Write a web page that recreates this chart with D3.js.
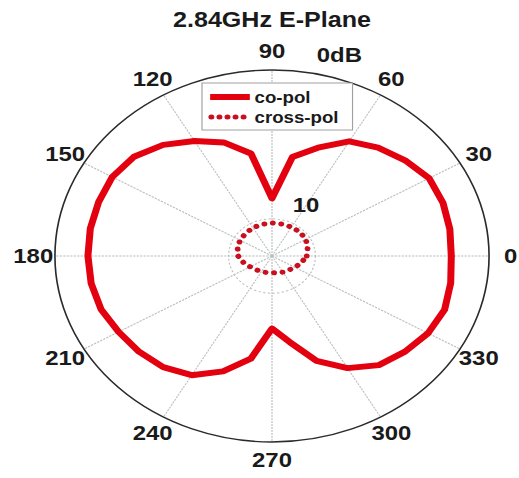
<!DOCTYPE html>
<html>
<head>
<meta charset="utf-8">
<script src="https://cdn.jsdelivr.net/npm/d3@7/dist/d3.min.js"></script>
<style>
  html, body { margin: 0; padding: 0; background: #fff; }
  text { font-family: "Liberation Sans", Arial, sans-serif; font-weight: bold; fill: #1a1a1a; }
</style>
</head>
<body>
<svg id="chart" width="519" height="478"></svg>
<script>
// ---- data ----
const title = "2.84GHz E-Plane";
const coPolAngles = [0,10,20,30,40,50,60,70,80,90,100,110,120,130,140,150,160,170,180,190,200,210,220,230,240,250,260,270,280,290,300,310,320,330,340,350];
const coPolValues = [41.3,41.6,41.9,41.8,40.0,38.0,35.6,31.0,27.0,15.5,28.0,32.5,35.7,39.0,41.5,42.5,42.5,42.5,42.4,42.3,41.9,40.8,40.0,39.0,37.0,33.0,28.0,19.5,23.5,30.0,34.8,38.3,40.0,41.5,42.3,41.8];
const crossPolAngles = [0,15,30,45,60,75,90,105,120,135,150,165,180,195,210,225,240,255,270,285,300,315,330,345];
const crossPolValues = [8.0,8.5,9.0,9.1,9.0,8.9,8.9,8.8,8.8,8.6,8.5,8.2,7.8,6.8,5.8,5.2,4.9,4.6,4.5,4.7,5.0,5.4,6.1,7.0];
const angleTicks = [0,30,60,90,120,150,180,210,240,270,300,330];
const ringValues = [10];
const ringLabels = ["10"];
const outerValue = 50;
const outerLabel = "0dB";
const seriesNames = ["co-pol", "cross-pol"];

// ---- layout ----
const cx = 272, cy = 256, R = 186, sx = 1.167;
const red = "#e3000f", darkRed = "#c8101e";

const svg = d3.select("#chart");
svg.append("rect").attr("width", 519).attr("height", 478).attr("fill", "#fff");

const g = svg.append("g").attr("transform", `translate(${cx},${cy}) scale(${sx},1)`);
const r = d3.scaleLinear().domain([0, outerValue]).range([0, R]);
const rad = d => d * Math.PI / 180;

// spokes
g.selectAll("line.spoke").data(angleTicks).join("line")
  .attr("x1", 0).attr("y1", 0)
  .attr("x2", d => r(outerValue) * Math.cos(rad(d)))
  .attr("y2", d => -r(outerValue) * Math.sin(rad(d)))
  .attr("stroke", "#bcc0c0").attr("stroke-width", 1).attr("stroke-dasharray", "2 1");

// inner rings
g.selectAll("circle.ring").data(ringValues).join("circle")
  .attr("r", d => r(d)).attr("fill", "none")
  .attr("stroke", "#bcc0c0").attr("stroke-width", 1).attr("stroke-dasharray", "2 2");

// outer ring
g.append("circle").attr("r", r(outerValue)).attr("fill", "none")
  .attr("stroke", "#2a2a2a").attr("stroke-width", 1.4);

// angle labels
g.selectAll("text.ang").data(angleTicks).join("text")
  .attr("x", d => 1.1 * r(outerValue) * Math.cos(rad(d)))
  .attr("y", d => -1.1 * r(outerValue) * Math.sin(rad(d)))
  .attr("text-anchor", "middle").attr("dominant-baseline", "central")
  .attr("font-size", 20.5).text(d => d);

// ring labels (at 82 deg)
g.selectAll("text.ringlab").data(ringValues).join("text")
  .attr("x", d => r(d * 1.1) * Math.cos(rad(82)) + 12)
  .attr("y", d => -r(d * 1.1) * Math.sin(rad(82)) - 3)
  .attr("font-size", 20.5).text((d, i) => ringLabels[i]);
g.append("text")
  .attr("x", r(outerValue * 1.02) * Math.cos(rad(82)) + 12)
  .attr("y", -r(outerValue * 1.02) * Math.sin(rad(82)) - 6)
  .attr("font-size", 20.5).text(outerLabel);

// series
const radial = d3.lineRadial()
  .angle(d => Math.PI / 2 - rad(d[0]))
  .radius(d => r(d[1]))
  .curve(d3.curveLinearClosed);

const coData = coPolAngles.map((a, i) => [a, coPolValues[i]]);
const crossData = crossPolAngles.map((a, i) => [a, crossPolValues[i]]);

g.append("path").attr("d", radial(coData)).attr("fill", "none")
  .attr("stroke", red).attr("stroke-width", 6).attr("stroke-linejoin", "round");
g.append("path").attr("d", radial(crossData)).attr("fill", "none")
  .attr("stroke", darkRed).attr("stroke-width", 5).attr("stroke-linecap", "round")
  .attr("stroke-dasharray", "0.1 7.2");

// legend
const lg = g.append("g");
lg.append("rect").attr("x", -60).attr("y", -173).attr("width", 129).attr("height", 47)
  .attr("fill", "#fff").attr("stroke", "#a0a0a0").attr("stroke-width", 1);
lg.append("line").attr("x1", -53).attr("x2", -19).attr("y1", -159).attr("y2", -159)
  .attr("stroke", red).attr("stroke-width", 6);
lg.append("line").attr("x1", -52).attr("x2", -19).attr("y1", -139).attr("y2", -139)
  .attr("stroke", darkRed).attr("stroke-width", 5).attr("stroke-linecap", "round")
  .attr("stroke-dasharray", "0.1 6.8");
lg.selectAll("text.leg").data(seriesNames).join("text")
  .attr("x", -15).attr("y", (d, i) => -159 + i * 20)
  .attr("dominant-baseline", "central").attr("font-size", 16).text(d => d);

// title
svg.append("text").attr("transform", `translate(${cx},27) scale(${sx},1)`)
  .attr("text-anchor", "middle").attr("font-size", 21.5).text(title);
</script>
</body>
</html>
